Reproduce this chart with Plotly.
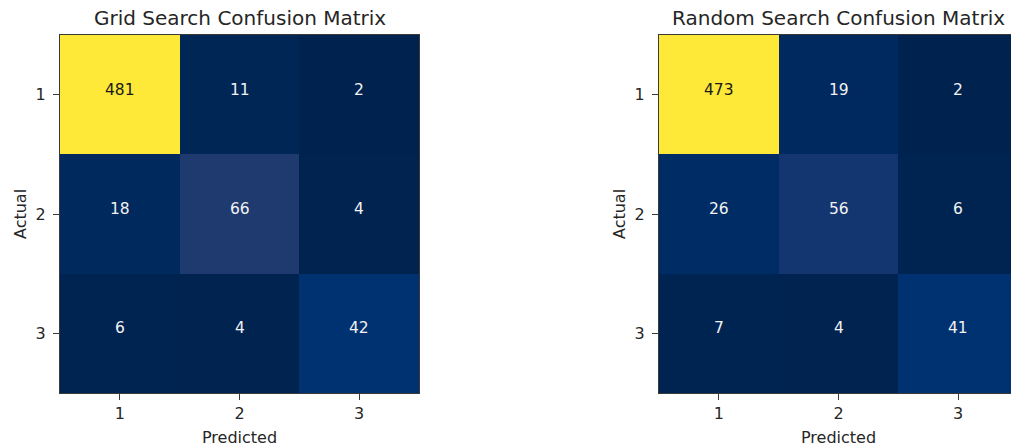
import plotly.graph_objects as go

# Class labels and confusion matrices (rows = actual, columns = predicted)
labels = ["1", "2", "3"]
grid_cm = [[481, 11, 2],
           [18, 66, 4],
           [6, 4, 42]]
random_cm = [[473, 19, 2],
             [26, 56, 6],
             [7, 4, 41]]
titles = ["Grid Search Confusion Matrix", "Random Search Confusion Matrix"]

W, H = 1011, 448
FONT = "DejaVu Sans"
TXT = "#262626"

# cividis, sampled densely at the dark end
cividis = [
    [0.0, "rgb(0,34,78)"], [0.0196, "rgb(0,38,86)"], [0.039, "rgb(0,42,97)"],
    [0.059, "rgb(0,45,104)"], [0.0745, "rgb(0,48,111)"], [0.086, "rgb(0,49,113)"],
    [0.098, "rgb(8,51,112)"], [0.118, "rgb(22,55,112)"], [0.133, "rgb(30,58,111)"],
    [0.222, "#3b496c"], [0.333, "#575d6d"], [0.444, "#707173"],
    [0.556, "#8a8678"], [0.667, "#a59c74"], [0.778, "#c3b369"],
    [0.889, "#e1cc55"], [1.0, "#fee838"],
]

# panel geometry in pixels
panels = [
    dict(x0=60, x1=419, full=True),
    dict(x0=659, x1=1018, full=False),
]
y_top, y_bot = 35, 393

fig = go.Figure()
annotations = []

for i, (cm, title, p) in enumerate(zip([grid_cm, random_cm], titles, panels)):
    n = "" if i == 0 else str(i + 1)
    xa, ya = "x" + n, "y" + n
    fig.add_trace(go.Heatmap(
        z=cm, x=[0, 1, 2], y=[0, 1, 2], colorscale=cividis, showscale=False,
        xaxis=xa, yaxis=ya, hoverinfo="z",
    ))
    zmin = min(min(r) for r in cm)
    zmax = max(max(r) for r in cm)
    mid = (zmin + zmax) / 2
    for r, row in enumerate(cm):
        for c, v in enumerate(row):
            annotations.append(dict(
                x=c, y=r, xref=xa, yref=ya, text=str(v), showarrow=False,
                yshift=5,
                font=dict(family=FONT, size=15.5,
                          color="#1a1a1a" if v > mid else "#f2f2f2"),
            ))

    # visible part of the panel (the right one runs past the window edge)
    x1_vis = min(p["x1"], W)
    span = 3 * (x1_vis - p["x0"]) / (p["x1"] - p["x0"])
    axis_common = dict(
        showgrid=False, zeroline=False, showline=True, linecolor="#3a3a3a",
        linewidth=1, ticks="outside", ticklen=6, tickcolor="#3a3a3a",
        tickfont=dict(family=FONT, size=16, color=TXT),
        tickvals=[0, 1, 2], ticktext=labels,
    )
    fig.update_layout(**{
        ("xaxis" + n): dict(axis_common, domain=[p["x0"] / W, x1_vis / W],
                            range=[-0.5, -0.5 + span], mirror=True,
                            anchor=ya),
        ("yaxis" + n): dict(axis_common, domain=[1 - y_bot / H, 1 - y_top / H],
                            range=[2.5, -0.5], mirror=p["full"],
                            anchor=xa, ticklabelstandoff=4),
    })

    cx = (p["x0"] + p["x1"]) / 2
    annotations.append(dict(
        x=cx / W, y=1 - 18 / H, xref="paper", yref="paper", text=title,
        showarrow=False, xanchor="center", yanchor="middle",
        font=dict(family=FONT, size=20, color=TXT),
    ))
    annotations.append(dict(
        x=cx / W, y=1 - 437 / H, xref="paper", yref="paper", text="Predicted",
        showarrow=False, xanchor="center", yanchor="middle",
        font=dict(family=FONT, size=16, color=TXT),
    ))
    annotations.append(dict(
        x=(p["x0"] - 40) / W, y=1 - (y_top + y_bot) / 2 / H, xref="paper",
        yref="paper", text="Actual", textangle=-90, showarrow=False,
        xanchor="center", yanchor="middle",
        font=dict(family=FONT, size=16, color=TXT),
    ))

fig.update_layout(
    width=W, height=H, margin=dict(l=0, r=0, t=0, b=0),
    paper_bgcolor="white", plot_bgcolor="white",
    annotations=annotations, showlegend=False,
)

fig.write_html("out.html")
